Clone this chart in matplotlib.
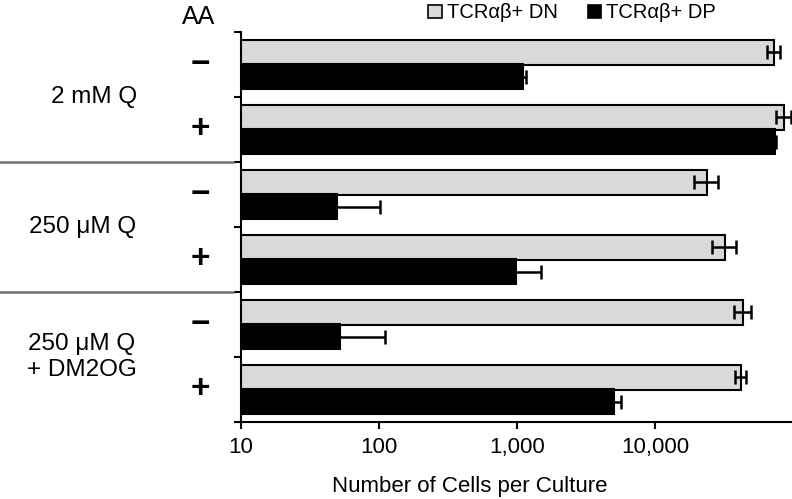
import matplotlib.pyplot as plt
import numpy as np
from matplotlib.patches import Patch
from matplotlib.transforms import blended_transform_factory

plt.rcParams['font.family'] = ['Liberation Sans', 'DejaVu Sans']

# values (cells per culture)
groups = ["2 mM Q", "250 \u03bcM Q", "250 \u03bcM Q\n+ DM2OG"]
aa = ["\u2212", "+", "\u2212", "+", "\u2212", "+"]
dn = np.array([72800, 86100, 23800, 32300, 43600, 41800])
dn_err = np.array([7600, 10400, 4700, 6500, 6000, 3800])
dp = np.array([1100, 74100, 50, 984, 52, 5070])
dp_err = np.array([60, 1500, 52, 508, 59, 570])
xticks = [10, 100, 1000, 10000]
xtick_labels = ["10", "100", "1,000", "10,000"]

gray = "#d9d9d9"
sep = "#707070"

fig = plt.figure(figsize=(7.92, 4.99), dpi=100)
ax = fig.add_axes([241/792, 77/499, 552/792, 390/499])
ax.set_xscale("log")

y = np.arange(len(dn))
h = 0.385
off = 0.19

ax.barh(y - off, dn, height=h, color=gray, edgecolor="black", linewidth=1.5, zorder=2)
ax.barh(y + off, dp, height=h, color="black", edgecolor="black", linewidth=1.5, zorder=2)

ax.errorbar(dn, y - off, xerr=dn_err, fmt="none", ecolor="black",
            elinewidth=1.8, capsize=4.7, capthick=1.8, zorder=3)
dp_low = np.minimum(dp_err, dp * 0.5)
ax.errorbar(dp, y + off, xerr=[dp_low, dp_err], fmt="none", ecolor="black",
            elinewidth=1.8, capsize=4.7, capthick=1.8, zorder=3)

ax.set_xlim(10, 100000)
ax.set_ylim(len(dn) - 0.5, -0.5)
ax.set_xticks(xticks)
ax.set_xticklabels(xtick_labels)
ax.minorticks_off()
ax.set_yticks(np.arange(len(dn) + 1) - 0.5)
ax.set_yticklabels([])

for s in ["top", "right"]:
    ax.spines[s].set_visible(False)
for s in ["left", "bottom"]:
    ax.spines[s].set_linewidth(1.5)
ax.tick_params(axis="both", direction="out", length=5, width=1.5, labelsize=16)
ax.tick_params(axis="x", pad=6)

ax.set_xlabel("Number of Cells per Culture", fontsize=16)
ax.xaxis.set_label_coords((470 - 241) / 552, -0.138)

# AA signs and group labels on the left
tr = blended_transform_factory(fig.transFigure, ax.transData)
for i, s in enumerate(aa):
    ax.text(200/792, i, s, transform=tr, ha="center", va="center",
            fontsize=24, fontweight="bold")
ax.text(199/792, 1 - 17/499, "AA", transform=fig.transFigure, ha="center",
        va="center", fontsize=18)

gx = [94, 83, 82]
for i, g in enumerate(groups):
    ax.text(gx[i]/792, 2*i + 0.5, g, transform=tr, ha="center", va="center",
            fontsize=17.5, linespacing=1.25)

for b in [1.5, 3.5]:
    ax.plot([0, 233/792], [b, b], transform=tr, color=sep, linewidth=1.8,
            clip_on=False)

handles = [Patch(facecolor=gray, edgecolor="black", linewidth=1.2, label="TCR\u03b1\u03b2+ DN"),
           Patch(facecolor="black", edgecolor="black", linewidth=1.2, label="TCR\u03b1\u03b2+ DP")]
fig.legend(handles=handles, loc="center left", bbox_to_anchor=(0.541, 0.974),
           ncol=2, frameon=False, fontsize=14.5, handlelength=0.65, handleheight=0.65,
           handletextpad=0.25, columnspacing=1.5, borderaxespad=0, borderpad=0)

fig.savefig("out.png", dpi=100)
